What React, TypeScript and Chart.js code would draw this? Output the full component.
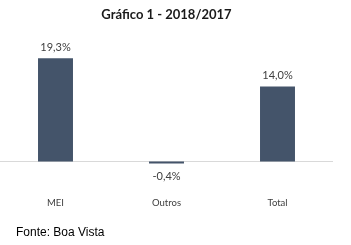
import React, { useEffect, useRef } from "react";
import { Chart, registerables } from "chart.js";

Chart.register(...registerables);

const categories = ["MEI", "Outros", "Total"];
const values = [19.3, -0.4, 14.0];
const valueLabels = ["19,3%", "-0,4%", "14,0%"];
const titleText = "Gráfico 1 - 2018/2017";
const sourceText = "Fonte: Boa Vista";

const zeroLinePlugin = {
  id: "zeroLine",
  beforeDatasetsDraw(chart: any) {
    const { ctx, chartArea, scales } = chart;
    const y = Math.round(scales.y.getPixelForValue(0)) + 0.5;
    ctx.save();
    ctx.strokeStyle = "#d9d9d9";
    ctx.lineWidth = 1;
    ctx.beginPath();
    ctx.moveTo(chartArea.left, y);
    ctx.lineTo(chartArea.right, y);
    ctx.stroke();
    ctx.restore();
  },
};

const valueLabelPlugin = {
  id: "valueLabels",
  afterDatasetsDraw(chart: any) {
    const { ctx } = chart;
    const meta = chart.getDatasetMeta(0);
    ctx.save();
    ctx.font = "11px Lato, 'DejaVu Sans', sans-serif";
    ctx.fillStyle = "#404040";
    ctx.textAlign = "center";
    ctx.textBaseline = "middle";
    meta.data.forEach((bar: any, i: number) => {
      const v = values[i];
      const y = v >= 0 ? bar.y - 11 : bar.y + 13;
      ctx.fillText(valueLabels[i], bar.x, y);
    });
    ctx.restore();
  },
};

export default function App() {
  const ref = useRef<HTMLCanvasElement>(null);
  useEffect(() => {
    if (!ref.current) return;
    const chart = new Chart(ref.current, {
      type: "bar",
      data: {
        labels: categories,
        datasets: [
          {
            data: values,
            backgroundColor: "#44546a",
            borderWidth: 0,
            barPercentage: 1,
            categoryPercentage: 0.315,
          },
        ],
      },
      options: {
        animation: false,
        responsive: false,
        maintainAspectRatio: false,
        layout: { padding: { left: 0, right: 18, top: 7, bottom: 32 } },
        plugins: {
          legend: { display: false },
          tooltip: { enabled: false },
          title: {
            display: true,
            text: titleText,
            color: "#1a1a1a",
            font: { family: "Lato, 'DejaVu Sans', sans-serif", size: 13, weight: "bold", lineHeight: 1.2 },
            padding: { top: 0, bottom: 31.8 },
          },
        },
        scales: {
          x: {
            grid: { display: false, drawTicks: false },
            border: { display: false },
            ticks: {
              color: "#404040",
              padding: 4,
              font: { family: "Lato, 'DejaVu Sans', sans-serif", size: 9.5, lineHeight: 1.2 },
            },
          },
          y: {
            display: false,
            min: -6,
            max: 20,
          },
        },
      },
      plugins: [zeroLinePlugin, valueLabelPlugin],
    });
    return () => chart.destroy();
  }, []);

  return (
    <div style={{ position: "fixed", left: 0, top: 0, width: 351, height: 245, background: "#fff" }}>
      <canvas ref={ref} width={351} height={245} style={{ position: "absolute", left: 0, top: 0 }} />
      <div
        style={{
          position: "absolute",
          left: 16,
          top: 225,
          fontFamily: "'Liberation Sans', Arial, sans-serif",
          fontSize: 12,
          color: "#000",
          lineHeight: "14px",
        }}
      >
        {sourceText}
      </div>
    </div>
  );
}
